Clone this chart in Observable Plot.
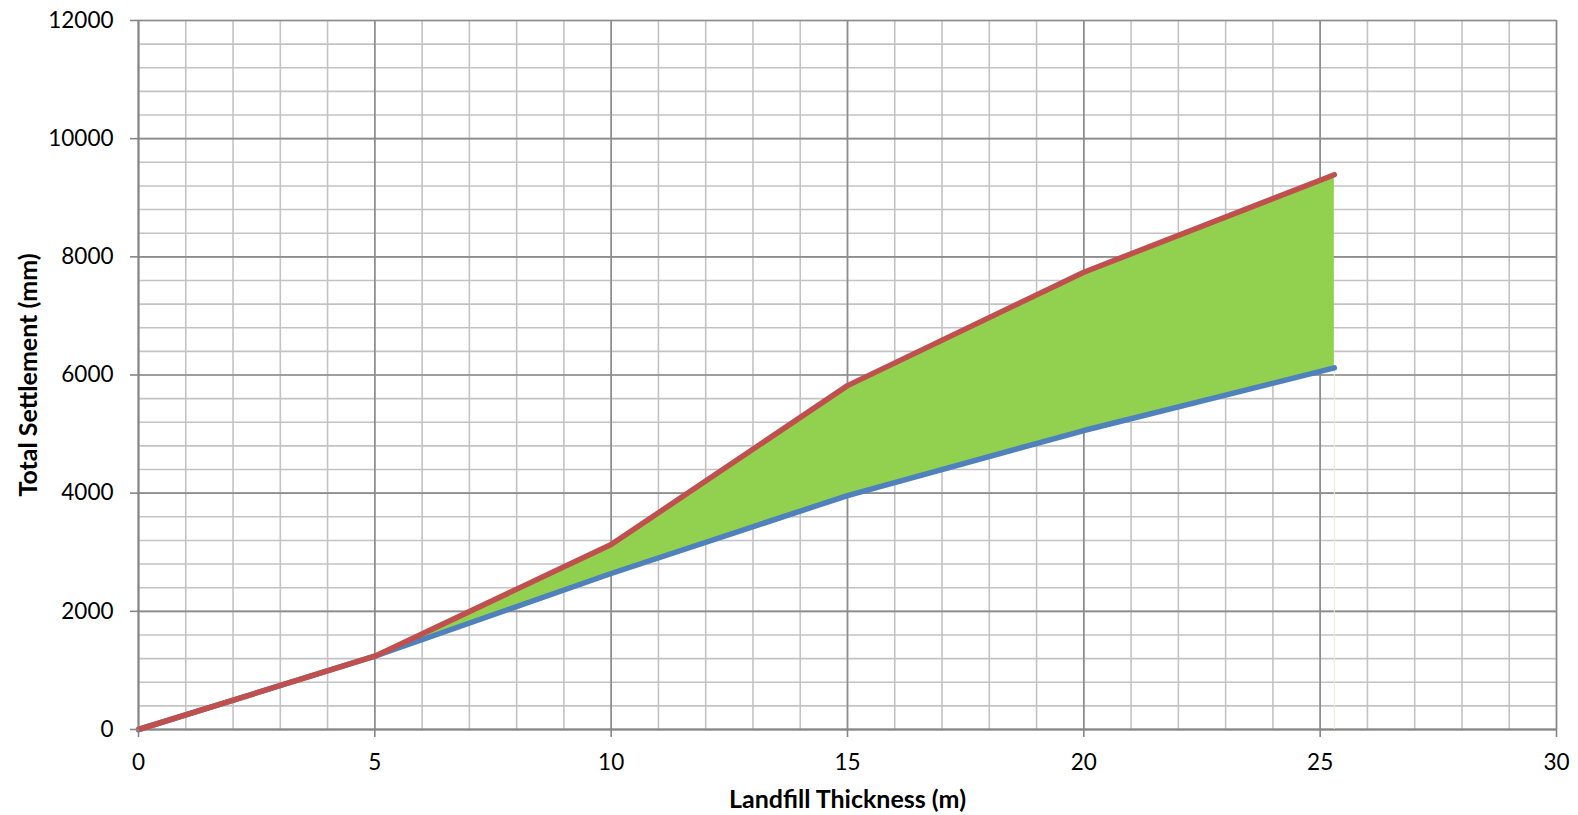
<!DOCTYPE html>
<html>
<head>
<meta charset="utf-8">
<script src="https://cdn.jsdelivr.net/npm/d3@7"></script>
<script src="https://cdn.jsdelivr.net/npm/@observablehq/plot@0.6"></script>
<style>
  html, body { margin: 0; padding: 0; background: #fff; overflow: hidden; }
  #chart svg { display: block; }
</style>
</head>
<body>
<div id="chart"></div>
<script>
// Data
const thickness = [0, 5, 10, 15, 20, 25.3];             // Landfill Thickness (m)
const lowerSettlement = [0, 1240, 2640, 3960, 5060, 6120]; // blue line (mm)
const upperSettlement = [0, 1240, 3130, 5820, 7740, 9390]; // red line (mm)

// Axis ticks
const xTicks = [0, 5, 10, 15, 20, 25, 30];
const yTicks = [0, 2000, 4000, 6000, 8000, 10000, 12000];
const xMinor = d3.range(0, 31, 1);
const yMinor = d3.range(0, 12001, 400);

const xLabel = "Landfill Thickness (m)";
const yLabel = "Total Settlement (mm)";

const data = thickness.map((t, i) => ({
  t, lower: lowerSettlement[i], upper: upperSettlement[i]
}));

const chart = Plot.plot({
  width: 1578,
  height: 815,
  marginLeft: 138,
  marginRight: 22,
  marginTop: 20,
  marginBottom: 86,
  style: { fontFamily: "Lato, 'Open Sans', sans-serif", fontSize: "22.5px", color: "#000", background: "#fff" },
  x: { domain: [0, 30] },
  y: { domain: [0, 12000] },
  marks: [
    Plot.ruleX(xMinor, { stroke: "#c3c3c3", strokeWidth: 1.6 }),
    Plot.ruleY(yMinor, { stroke: "#c3c3c3", strokeWidth: 1.6 }),
    Plot.ruleX(xTicks, { stroke: "#8c8c8c", strokeWidth: 1.6 }),
    Plot.ruleY(yTicks, { stroke: "#8c8c8c", strokeWidth: 1.6 }),
    Plot.ruleX([0], { stroke: "#868686", strokeWidth: 1.8 }),
    Plot.ruleY([0], { stroke: "#868686", strokeWidth: 1.8 }),
    Plot.areaY(data, { x: "t", y1: "lower", y2: "upper", fill: "#92D050", curve: "linear" }),
    Plot.ruleX([thickness[thickness.length - 1]], { y1: 0, y2: lowerSettlement[lowerSettlement.length - 1], stroke: "#e4f1d4", strokeWidth: 1 }),
    Plot.line(data, { x: "t", y: "lower", stroke: "#4F81BD", strokeWidth: 5.5, strokeLinecap: "round", strokeLinejoin: "round" }),
    Plot.line(data, { x: "t", y: "upper", stroke: "#C0504D", strokeWidth: 5.5, strokeLinecap: "round", strokeLinejoin: "round" }),
    Plot.axisX({ ticks: xTicks, tickSize: 8, tickPadding: 17, stroke: "#868686", strokeWidth: 1.6, fill: "#000", label: null, tickFormat: d => String(d) }),
    Plot.axisY({ ticks: yTicks, tickSize: 8, tickPadding: 17, stroke: "#868686", strokeWidth: 1.6, fill: "#000", label: null, tickFormat: d => String(d) }),
    Plot.text([xLabel], { text: d => d, frameAnchor: "bottom", dy: 70, fontWeight: "bold", fontSize: 25, fill: "#000", textAnchor: "middle", lineAnchor: "middle" }),
    Plot.text([yLabel], { text: d => d, frameAnchor: "left", dx: -110, rotate: -90, fontWeight: "bold", fontSize: 25, fill: "#000", textAnchor: "middle", lineAnchor: "middle" })
  ]
});

document.getElementById("chart").appendChild(chart);
</script>
</body>
</html>
